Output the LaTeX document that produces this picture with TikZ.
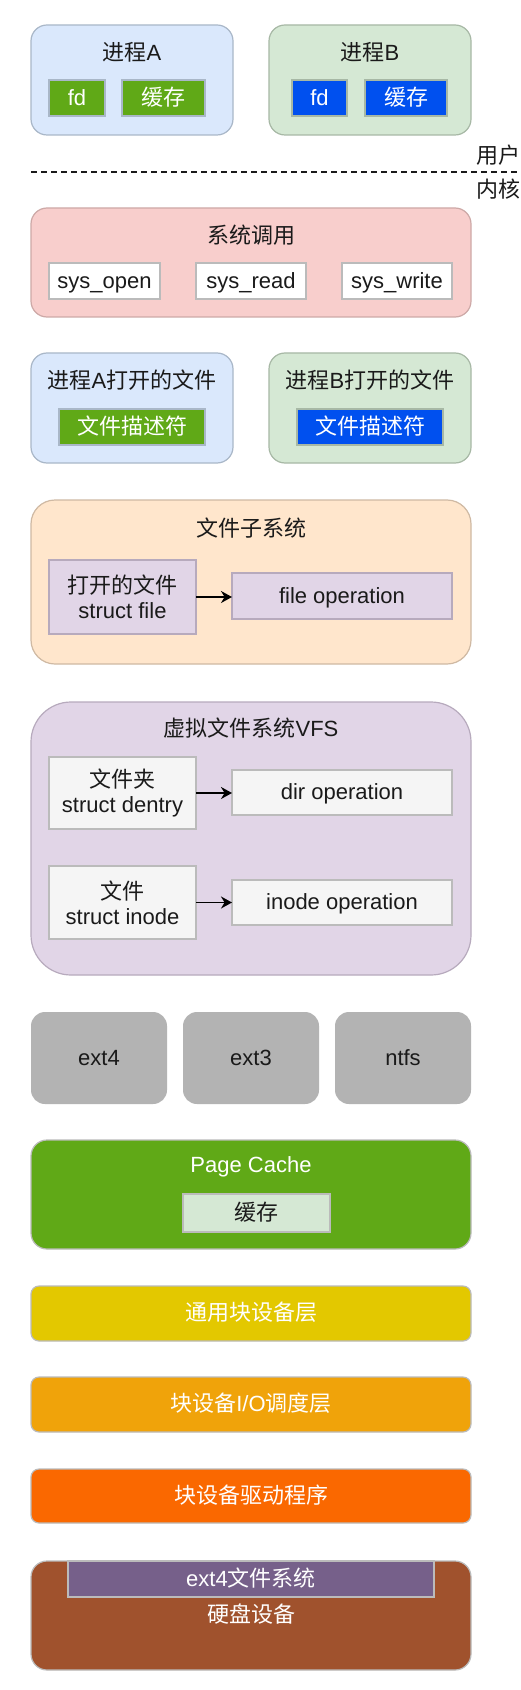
\documentclass[tikz,border=0pt]{standalone}
\usepackage{fontspec}
\setmainfont{Liberation Sans}
\newfontfamily\cjk{Noto Sans CJK SC}
\usetikzlibrary{arrows.meta}

\definecolor{procAfill}{HTML}{DAE8FC}
\definecolor{procAline}{HTML}{A9B7C8}
\definecolor{procBfill}{HTML}{D5E8D4}
\definecolor{procBline}{HTML}{A7B8A5}
\definecolor{sysfill}{HTML}{F8CECC}
\definecolor{sysline}{HTML}{CDA9A7}
\definecolor{subfill}{HTML}{FFE6CC}
\definecolor{subline}{HTML}{CFB9A3}
\definecolor{vfsfill}{HTML}{E1D5E7}
\definecolor{vfsline}{HTML}{B7AABD}
\definecolor{lightfill}{HTML}{F5F5F5}
\definecolor{greyline}{HTML}{BBBBBB}
\definecolor{fsgrey}{HTML}{B3B3B3}
\definecolor{leaf}{HTML}{60A917}
\definecolor{royal}{HTML}{0050EF}
\definecolor{mustard}{HTML}{E3C800}
\definecolor{amber}{HTML}{F0A30A}
\definecolor{tangerine}{HTML}{FA6800}
\definecolor{sienna}{HTML}{A0522D}
\definecolor{mauve}{HTML}{76608A}
\definecolor{ink}{HTML}{1A1A1A}

\begin{document}
\begin{tikzpicture}[
x=0.5pt,y=-0.5pt,
font=\fontsize{11}{12.5}\selectfont,text=ink,
frame/.style={rectangle,draw=#1,line width=0.6pt,inner sep=0pt,outer sep=0pt,text height=0.92em,text depth=0.2em},
layer/.style={frame=greyline,rounded corners=4pt,minimum width=220pt,text=white},
cellwhite/.style={frame=greyline,fill=white,minimum height=18pt},
flow/.style={-{Stealth[length=5.5pt,width=6pt]},line width=0.85pt,black}
]
\fill[white] (0,0) rectangle (520,1690);
\useasboundingbox (0,0) rectangle (520,1690);

% user space
\node[frame=procAline,fill=procAfill,rounded corners=8pt,minimum width=101pt,minimum height=55pt] (procA) at (132,80) {};
\node (procAtitle) at (132,52) {{\cjk 进程}A};
\node[frame=procAline,fill=leaf,text=white,minimum width=28pt,minimum height=18pt] (fdA) at (77,98) {fd};
\node[frame=procAline,fill=leaf,text=white,minimum width=41.5pt,minimum height=18pt] (bufA) at (163.5,98) {\cjk 缓存};

\node[frame=procBline,fill=procBfill,rounded corners=8pt,minimum width=101pt,minimum height=55pt] (procB) at (370,80) {};
\node (procBtitle) at (370,52) {{\cjk 进程}B};
\node[frame=procBline,fill=royal,text=white,minimum width=27.5pt,minimum height=18pt] (fdB) at (319.5,98) {fd};
\node[frame=procBline,fill=royal,text=white,minimum width=41pt,minimum height=18pt] (bufB) at (406,98) {\cjk 缓存};

\coordinate (sepL) at (31,172);
\coordinate (sepR) at (522,172);
\draw[ink,line width=0.7pt,dash pattern=on 3pt off 2pt] (sepL) -- (sepR);
\node[anchor=west,inner sep=0pt] (userspace) at (476,155) {\cjk 用户空间};
\node[anchor=west,inner sep=0pt] (kernelspace) at (476,189) {\cjk 内核空间};

% system calls
\node[frame=sysline,fill=sysfill,rounded corners=8pt,minimum width=220pt,minimum height=54.5pt] (syscall) at (251,262.5) {};
\node (syscalltitle) at (251,235) {\cjk 系统调用};
\node[cellwhite,minimum width=55.5pt] (sysopen) at (104.5,281) {sys\_open};
\node[cellwhite,minimum width=55pt] (sysread) at (251,281) {sys\_read};
\node[cellwhite,minimum width=55pt] (syswrite) at (397,281) {sys\_write};

% opened files
\node[frame=procAline,fill=procAfill,rounded corners=8pt,minimum width=101pt,minimum height=55pt] (openA) at (132,408) {};
\node (openAtitle) at (132,380) {{\cjk 进程}A{\cjk 打开的文件}};
\node[frame=procAline,fill=leaf,text=white,minimum width=73pt,minimum height=18pt] (fdescA) at (132,427) {\cjk 文件描述符};

\node[frame=procBline,fill=procBfill,rounded corners=8pt,minimum width=101pt,minimum height=55pt] (openB) at (370,408) {};
\node (openBtitle) at (370,380) {{\cjk 进程}B{\cjk 打开的文件}};
\node[frame=procBline,fill=royal,text=white,minimum width=73pt,minimum height=18pt] (fdescB) at (370,427) {\cjk 文件描述符};

% file subsystem
\node[frame=subline,fill=subfill,rounded corners=12pt,minimum width=220pt,minimum height=82pt] (filesub) at (251,582) {};
\node (filesubtitle) at (251,528) {\cjk 文件子系统};
\node[frame=vfsline,fill=vfsfill,minimum width=73.5pt,minimum height=37pt,align=center,text height=,text depth=] (sfile) at (122.5,597) {{\cjk 打开的文件}\\struct file};
\node[frame=vfsline,fill=vfsfill,minimum width=110pt,minimum height=23pt] (fileop) at (342,596) {file operation};
\draw[flow] (sfile.east) -- (sfile.east -| fileop.west);

% VFS
\node[frame=vfsline,fill=vfsfill,rounded corners=20pt,minimum width=220pt,minimum height=136.5pt] (vfs) at (251,838.5) {};
\node (vfstitle) at (251,728) {{\cjk 虚拟文件系统}VFS};
\node[frame=greyline,fill=lightfill,minimum width=73.5pt,minimum height=36pt,align=center,text height=,text depth=] (dentry) at (122.5,793) {{\cjk 文件夹}\\struct dentry};
\node[frame=greyline,fill=lightfill,minimum width=110pt,minimum height=22.5pt] (dirop) at (342,792.5) {dir operation};
\node[frame=greyline,fill=lightfill,minimum width=73.5pt,minimum height=36.5pt,align=center,text height=,text depth=] (inode) at (122.5,902.5) {{\cjk 文件}\\struct inode};
\node[frame=greyline,fill=lightfill,minimum width=110pt,minimum height=22.5pt] (inodeop) at (342,902.5) {inode operation};
\draw[flow] (dentry.east) -- (dentry.east -| dirop.west);
\draw[flow] (inode.east) -- (inode.east -| inodeop.west);

% concrete file systems
\foreach \fsname/\fsx in {ext4/99,ext3/251,ntfs/403}
  \node[rectangle,fill=fsgrey,rounded corners=7pt,minimum width=68pt,minimum height=46pt,inner sep=0pt,text height=0.92em,text depth=0.2em] (\fsname) at (\fsx,1058) {\fsname};

% page cache
\node[frame=greyline,fill=leaf,rounded corners=8pt,minimum width=220pt,minimum height=54.5pt] (pagecache) at (251,1194.5) {};
\node[text=white] (pagecachetitle) at (251,1167) {Page Cache};
\node[frame=greyline,fill=procBfill,minimum width=73.5pt,minimum height=19pt] (pcbuf) at (256.5,1213) {\cjk 缓存};

% block layers
\node[layer,fill=mustard,minimum height=27.5pt] (blkgeneric) at (251,1313.5) {\cjk 通用块设备层};
\node[layer,fill=amber,minimum height=27.5pt] (blksched) at (251,1404.5) {{\cjk 块设备}I/O{\cjk 调度层}};
\node[layer,fill=tangerine,minimum height=27pt] (blkdriver) at (251,1496) {\cjk 块设备驱动程序};

% disk
\node[frame=greyline,fill=sienna,rounded corners=8pt,minimum width=220pt,minimum height=54.5pt,text=white] (disk) at (251,1615.5) {\cjk 硬盘设备};
\node[frame=greyline,fill=mauve,minimum width=183pt,minimum height=18pt,text=white] (ext4fs) at (251,1579) {ext4{\cjk 文件系统}};
\end{tikzpicture}
\end{document}
